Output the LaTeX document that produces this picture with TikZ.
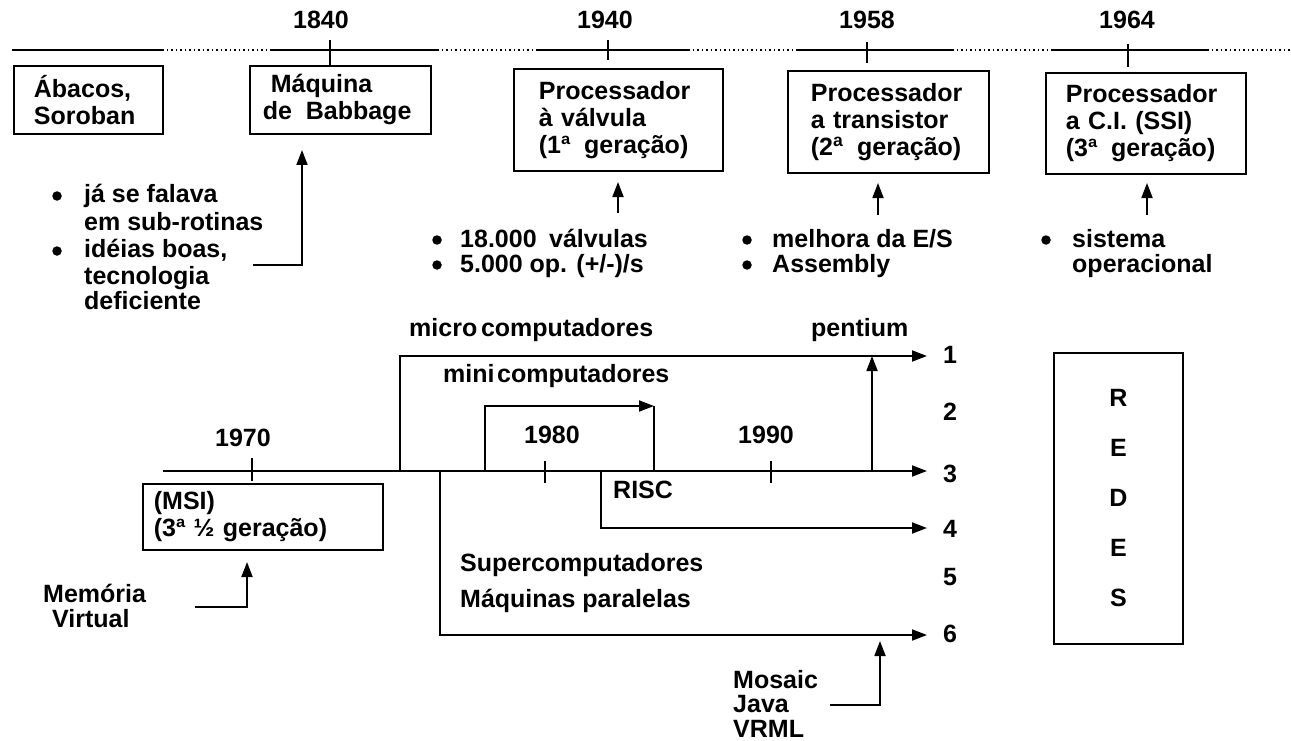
\documentclass[tikz,border=0pt]{standalone}
\usepackage{fontspec}
\setmainfont{Liberation Sans}
\usetikzlibrary{arrows.meta}

\tikzset{
  lbl/.style={font=\fontsize{25}{27}\selectfont\bfseries, inner sep=0pt},
  txt/.style={lbl, anchor=base west},
  yr/.style={lbl, anchor=base},
  era/.style={lbl, draw, line width=1.8pt, align=left, anchor=north west, inner ysep=0pt},
  bul/.style={circle, fill, inner sep=0pt, minimum size=9.5pt},
  ln/.style={line width=1.8pt},
  dots/.style={line width=1.6pt, dash pattern=on 1.5pt off 3pt},
  arr/.style={line width=1.8pt, -{Triangle[length=15pt,width=11pt]}},
}

\begin{document}
\begin{tikzpicture}[x=1pt, y=-1pt]
\useasboundingbox (0,0) rectangle (1291,741);
\fill[white] (0,0) rectangle (1291,741);

% ---------- upper time line: 1840 ... 1964 ----------
\draw[ln]   (12,50) -- (162,50);
\draw[dots] (162,50) -- (270,50);
\draw[ln]   (270,50) -- (437,50);
\draw[dots] (437,50) -- (537,50);
\draw[ln]   (537,50) -- (688,50);
\draw[dots] (688,50) -- (798,50);
\draw[ln]   (798,50) -- (952,50);
\draw[dots] (952,50) -- (1053,50);
\draw[ln]   (1053,50) -- (1207,50);
\draw[dots] (1207,50) -- (1291,50);

\node[yr] (y1840) at (321,29) {1840};
\node[yr] (y1940) at (605,29) {1940};
\node[yr] (y1958) at (867,29) {1958};
\node[yr] (y1964) at (1127,29) {1964};

\draw[ln] (330,40) -- (330,65);
\draw[ln] (608,40) -- (608,60);
\draw[ln] (867,42) -- (867,63);
\draw[ln] (1128,44) -- (1128,67);

% ---------- generation boxes ----------
\node[era, text width=109pt, inner xsep=20pt, minimum height=68pt] (abacos) at (13,65)
  {Ábacos,\\Soroban};
\node[era, text width=155pt, inner xsep=13pt, minimum height=68pt] (babbage) at (249,65)
  {\hspace*{8pt}Máquina\\de\hspace{0.55em}Babbage};
\node[era, text width=159pt, inner xsep=25pt, minimum height=102pt] (valvula) at (513,68)
  {Processador\\à válvula\\(1ª\hspace{0.55em}geração)};
\node[era, text width=155pt, inner xsep=23pt, minimum height=102pt] (transistor) at (787,70)
  {Processador\\a transistor\\(2\textsuperscript{a}\hspace{0.55em}geração)};
\node[era, text width=160pt, inner xsep=20pt, minimum height=101pt] (circint) at (1045,72)
  {Processador\\a C.I. (SSI)\\(3ª\hspace{0.55em}geração)};

% ---------- notes under the boxes ----------
\node[bul] (bA1) at (57,196) {};
\node[txt] (nA1) at (84,203) {já se falava};
\node[txt] (nA2) at (84,230) {em sub-rotinas};
\node[bul] (bA2) at (57,251) {};
\node[txt] (nA3) at (84,257) {idéias boas,};
\node[txt] (nA4) at (84,284) {tecnologia};
\node[txt] (nA5) at (84,309) {deficiente};
\coordinate (babIn) at (253,265);
\coordinate (babTip) at (302,150);
\draw[arr] (babIn) -| (babTip);

\node[bul] (bB1) at (437,240) {};
\node[txt] (nB1) at (460,247) {18.000\hspace{0.5em}válvulas};
\node[bul] (bB2) at (437,265) {};
\node[txt] (nB2) at (460,272) {5.000 op. (+/-)/s};
\coordinate (valFoot) at (618,213);
\coordinate (valTip) at (618,182);
\draw[arr] (valFoot) -- (valTip);

\node[bul] (bC1) at (747,240) {};
\node[txt] (nC1) at (772,247) {melhora da E/S};
\node[bul] (bC2) at (747,265) {};
\node[txt] (nC2) at (772,272) {Assembly};
\coordinate (traFoot) at (878,215);
\coordinate (traTip) at (878,183);
\draw[arr] (traFoot) -- (traTip);

\node[bul] (bD1) at (1046,240) {};
\node[txt] (nD1) at (1072,247) {sistema};
\node[txt] (nD2) at (1072,272) {operacional};
\coordinate (ciFoot) at (1147,215);
\coordinate (ciTip) at (1147,183);
\draw[arr] (ciFoot) -- (ciTip);

% ---------- lower time line: 1970 ... 1990 ----------
\node[yr] (y1970) at (243,446) {1970};
\node[yr] (y1980) at (552,443) {1980};
\node[yr] (y1990) at (766,443) {1990};

\node[lbl, anchor=base] (n1) at (950,363) {1};
\node[lbl, anchor=base] (n2) at (950,420) {2};
\node[lbl, anchor=base] (n3) at (950,482) {3};
\node[lbl, anchor=base] (n4) at (950,537) {4};
\node[lbl, anchor=base] (n5) at (950,585) {5};
\node[lbl, anchor=base] (n6) at (950,642) {6};

\coordinate (lineStart) at (163,471);
\coordinate (tip1) at (927,356);
\coordinate (tip3) at (927,471);
\coordinate (tip4) at (927,528);
\coordinate (tip6) at (927,635);
\coordinate (microRoot) at (400,471);
\coordinate (miniRoot) at (485,471);
\coordinate (miniTip) at (654,406);
\coordinate (miniEnd) at (654,471);
\coordinate (superRoot) at (440,471);
\coordinate (riscRoot) at (601,471);
\coordinate (pentRoot) at (872,471);
\coordinate (pentTip) at (872,356);

\draw[arr] (lineStart) -- (tip3);
\draw[ln] (252,458) -- (252,481);
\draw[ln] (545,461) -- (545,483);
\draw[ln] (771,461) -- (771,483);

\draw[arr] (microRoot) |- (tip1);
\draw[arr] (miniRoot) |- (miniTip);
\draw[ln] (miniTip) -- (miniEnd);
\draw[arr] (riscRoot) |- (tip4);
\draw[arr] (superRoot) |- (tip6);
\draw[arr] (pentRoot) -- (pentTip);

\node[txt] (micro) at (409,336) {micro\hspace{0.15em}computadores};
\node[txt] (pentium) at (811,336) {pentium};
\node[txt] (mini) at (443,382) {mini\hspace{0.1em}computadores};
\node[txt] (risc) at (613,498) {RISC};
\node[txt] (superc) at (460,571) {Supercomputadores};
\node[txt] (paral) at (460,607) {Máquinas paralelas};

% ---------- third and a half generation ----------
\node[era, text width=218pt, inner xsep=11pt, minimum height=66pt] (msi) at (142,483)
  {(MSI)\\(3ª ½ geração)};
\node[txt] (mem1) at (43,602) {Memória};
\node[txt] (mem2) at (52,627) {Virtual};
\coordinate (memIn) at (195,607);
\coordinate (msiTip) at (247,562);
\draw[arr] (memIn) -| (msiTip);

% ---------- web technologies ----------
\node[txt] (mos1) at (733,688) {Mosaic};
\node[txt] (mos2) at (733,712) {Java};
\node[txt] (mos3) at (733,737) {VRML};
\coordinate (webIn) at (830,705);
\coordinate (webTip) at (880,641);
\draw[arr] (webIn) -| (webTip);

% ---------- networks ----------
\node[lbl, draw, line width=1.8pt, anchor=north west, minimum width=129pt, minimum height=291pt,
      align=center, font=\fontsize{25}{50}\selectfont\bfseries] (redes) at (1053,352)
  {R\\E\\D\\E\\S};
\end{tikzpicture}
\end{document}
